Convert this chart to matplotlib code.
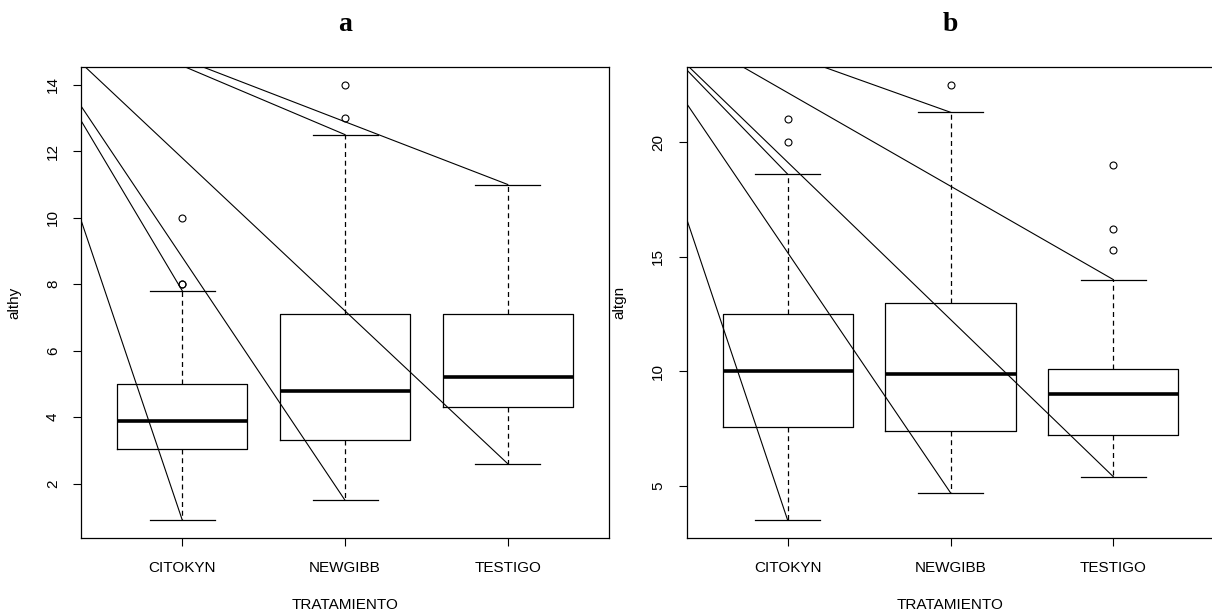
import numpy as np
import matplotlib.pyplot as plt

plt.rcParams['font.family'] = ['Liberation Sans', 'DejaVu Sans']

groups = ["CITOKYN", "NEWGIBB", "TESTIGO"]

# althy by treatment
althy_q1 = [3.05, 3.3, 4.3]
althy_med = [3.9, 4.8, 5.2]
althy_q3 = [5.0, 7.1, 7.1]
althy_lo = [0.9, 1.5, 2.6]
althy_hi = [7.8, 12.5, 11.0]
althy_out = [[8.0, 8.0, 10.0], [13.0, 14.0], []]
althy_ticks = [2, 4, 6, 8, 10, 12, 14]
althy_origin = (-0.1, 16.85)

# altgn by treatment
altgn_q1 = [7.55, 7.4, 7.2]
altgn_med = [10.0, 9.9, 9.0]
altgn_q3 = [12.5, 13.0, 10.1]
altgn_lo = [3.5, 4.7, 5.4]
altgn_hi = [18.6, 21.3, 14.0]
altgn_out = [[20.0, 21.0], [22.5], [15.3, 16.2, 19.0]]
altgn_ticks = [5, 10, 15, 20]
altgn_origin = (-0.09, 26.6)


def draw_panel(ax, q1, med, q3, lo, hi, out, ticks, origin, ylabel):
    stats = []
    for i in range(len(groups)):
        stats.append(dict(med=med[i], q1=q1[i], q3=q3[i],
                          whislo=lo[i], whishi=hi[i], fliers=out[i]))
    pos = np.arange(1, len(groups) + 1)
    ax.bxp(stats, positions=pos, widths=0.8, capwidths=0.4,
           boxprops=dict(color='black', lw=0.9),
           medianprops=dict(color='black', lw=2.6, solid_capstyle='butt'),
           whiskerprops=dict(color='black', lw=0.9, ls=(0, (4, 3))),
           capprops=dict(color='black', lw=0.9),
           flierprops=dict(marker='o', mfc='none', mec='black', ms=5, mew=0.8))

    # straight lines from a common point to each whisker end
    for i, p in enumerate(pos):
        for yend in (lo[i], hi[i]):
            ax.plot([origin[0], p], [origin[1], yend], color='black', lw=0.8)

    # R-like 4% padding on both axes
    allv = lo + hi + [v for o in out for v in o]
    vmin, vmax = min(allv), max(allv)
    r = vmax - vmin
    ax.set_ylim(vmin - 0.04 * r, vmax + 0.04 * r)
    ax.set_xlim(0.5 - 0.12, len(groups) + 0.5 + 0.12)

    ax.set_xticks(pos)
    ax.set_xticklabels(groups)
    ax.set_yticks(ticks)
    ax.tick_params(direction='out', length=6, width=0.8, labelsize=11)
    ax.tick_params(axis='x', pad=10.5)
    ax.tick_params(axis='y', pad=9.5, labelrotation=90)
    for lbl in ax.get_yticklabels():
        lbl.set_va('center')
    for s in ax.spines.values():
        s.set_linewidth(0.9)
    ax.set_xlabel("TRATAMIENTO", fontsize=11, labelpad=17)
    ax.set_ylabel(ylabel, fontsize=11, labelpad=18)


fig = plt.figure(figsize=(12.12, 6.14), dpi=100)
ax1 = fig.add_axes([0.0672, 0.1243, 0.435, 0.766])
ax2 = fig.add_axes([0.5666, 0.1243, 0.4353, 0.766])

draw_panel(ax1, althy_q1, althy_med, althy_q3, althy_lo, althy_hi,
           althy_out, althy_ticks, althy_origin, "althy")
draw_panel(ax2, altgn_q1, altgn_med, altgn_q3, altgn_lo, altgn_hi,
           altgn_out, altgn_ticks, altgn_origin, "altgn")

for ax, t in ((ax1, "a"), (ax2, "b")):
    ax.set_title(t, fontsize=20, fontweight='bold',
                 family=['Liberation Serif', 'DejaVu Serif'], pad=26)

fig.savefig("out.png", dpi=100)
